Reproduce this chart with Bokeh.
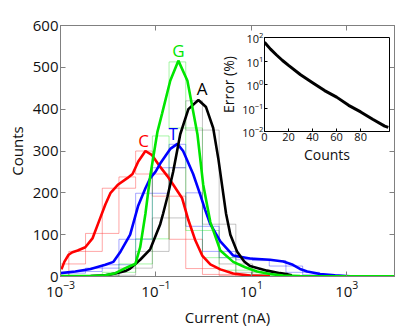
import numpy as np
from bokeh.plotting import figure
from bokeh.models import Range1d, FixedTicker, LinearAxis, LogAxis, CustomJSTickFormatter, ColumnDataSource
from bokeh.layouts import column
from bokeh.core.properties import value
from bokeh.embed import file_html
from bokeh.resources import INLINE

# ---------------- data ----------------
# histogram bin centres, log10(current / nA); bin width in decades
bin_width = 0.35
hist_C = [30, 60, 103, 211, 238, 300, 245, 192, 89, 19, 5, 2]
hist_T = [8, 12, 20, 28, 89, 199, 260, 316, 200, 120, 60, 45, 40, 38, 25, 10, 4]
hist_G = [0, 0, 1, 10, 30, 90, 336, 513, 355, 110, 45, 15, 5, 2]
hist_A = [0, 0, 1, 3, 20, 60, 140, 260, 420, 350, 125, 30, 10, 5]
first_bin_center = -3.0

# smoothed curves: log10(current) and counts
C_logx = [-2.98, -2.92, -2.83, -2.75, -2.64, -2.48, -2.33, -2.21, -2.06, -1.95, -1.79, -1.60, -1.49,
          -1.37, -1.22, -1.08, -0.91, -0.76, -0.64, -0.45, -0.32, -0.18, -0.03, 0.14, 0.35, 0.62, 0.97, 1.39]
C_cnt = [17, 35, 52, 58, 62, 70, 91, 127, 172, 200, 220, 235, 245,
         275, 300, 290, 262, 240, 220, 187, 135, 88, 50, 29, 17, 7, 2, 0.5]

T_logx = [-3.0, -2.69, -2.37, -2.06, -1.89, -1.74, -1.54, -1.37, -1.22, -1.12, -1.01, -0.91, -0.70,
          -0.55, -0.43, -0.22, -0.07, 0.03, 0.14, 0.35, 0.62, 0.97, 1.39, 1.67, 1.87, 2.02, 2.17, 2.44, 2.75, 3.07]
T_cnt = [8, 12, 18, 28, 35, 60, 100, 170, 211, 235, 250, 270, 305,
         317, 300, 245, 195, 160, 125, 84, 50, 43, 40, 36, 28, 18, 12, 6, 3, 0.5]

G_logx = [-3.0, -2.37, -2.06, -1.85, -1.64, -1.54, -1.43, -1.33, -1.22, -1.12, -0.97, -0.87, -0.70,
          -0.53, -0.34, -0.13, -0.01, 0.14, 0.35, 0.62, 0.87, 1.12, 1.39, 1.67, 2.02, 4.0]
G_cnt = [1, 1, 3, 8, 20, 25, 30, 70, 150, 240, 345, 390, 468,
         516, 468, 340, 220, 130, 62, 35, 22, 12, 6, 2, 1, 0.5]

A_logx = [-3.0, -2.37, -2.06, -1.85, -1.64, -1.54, -1.33, -1.12, -0.91, -0.85, -0.76, -0.64, -0.49,
          -0.32, -0.11, 0.05, 0.20, 0.31, 0.39, 0.47, 0.56, 0.70, 0.85, 0.97, 1.33, 1.60, 1.77, 1.85]
A_cnt = [0.5, 1, 3, 7, 13, 19, 40, 65, 125, 150, 190, 250, 340,
         400, 422, 405, 355, 280, 215, 150, 100, 60, 36, 25, 14, 8, 5, 3]

labels = ["C", "T", "G", "A"]
label_logx = [-1.26, -0.64, -0.53, -0.03]
label_cnt = [325, 343, 540, 449]

# inset: error (%) vs counts
err_counts = [0, 5, 10, 15, 20, 30, 40, 50, 60, 70, 80, 90, 100, 103]
err_pct = [63, 32, 18, 10.5, 6.5, 2.6, 1.2, 0.55, 0.29, 0.13, 0.068, 0.033, 0.017, 0.015]

colors = {"C": "#ff0000", "T": "#0000ff", "G": "#00e600", "A": "#000000"}
FONT = "Open Sans"
AX = "#808080"

# ---------------- main figure ----------------
p = figure(width=404, height=330, x_axis_type="log",
           x_range=Range1d(1e-3, 1e4), y_range=Range1d(0, 600),
           output_backend="svg", toolbar_location=None,
           min_border_left=60, min_border_right=10, min_border_top=25, min_border_bottom=54)
p.grid.visible = False
p.outline_line_color = AX
p.background_fill_color = "white"


def box_bottoms(h):
    out = []
    n = len(h)
    for k in range(n):
        left = h[k - 1] if k > 0 else 0
        right = h[k + 1] if k < n - 1 else 0
        lower = [v for v in (left, right) if v < h[k]]
        out.append(max(lower) if lower else h[k])
    return out


for name, h in (("C", hist_C), ("T", hist_T), ("G", hist_G), ("A", hist_A)):
    centers = first_bin_center + bin_width * np.arange(len(h))
    src = ColumnDataSource(dict(
        left=10 ** (centers - bin_width / 2), right=10 ** (centers + bin_width / 2),
        top=h, bottom=box_bottoms(h)))
    col = colors[name] if name != "A" else "#555555"
    p.quad(left="left", right="right", top="top", bottom="bottom", source=src,
           fill_alpha=0, line_color=col, line_alpha=0.35, line_width=1)

for name, lx, cnt in (("C", C_logx, C_cnt), ("T", T_logx, T_cnt),
                      ("A", A_logx, A_cnt), ("G", G_logx, G_cnt)):
    p.line(10 ** np.array(lx), cnt, line_color=colors[name], line_width=2.6)

p.text(x=10 ** np.array(label_logx), y=label_cnt, text=labels,
       text_color=[colors[l] for l in labels], text_font=value(FONT), text_font_size="17px",
       text_align="center", text_baseline="middle")

xt = FixedTicker(ticks=[1e-3, 1e-1, 1e1, 1e3], minor_ticks=[])
yt = FixedTicker(ticks=[0, 100, 200, 300, 400, 500, 600], minor_ticks=[])
p.xaxis.ticker = xt
p.yaxis.ticker = yt
for ax in (p.xaxis[0], p.yaxis[0]):
    ax.major_tick_in = 5
    ax.major_tick_out = 0
    ax.minor_tick_in = 0
    ax.minor_tick_out = 0
    ax.axis_line_color = AX
    ax.major_tick_line_color = AX
    ax.major_label_text_font = FONT
    ax.major_label_text_font_size = "15px"
    ax.major_label_text_color = "#111111"
    ax.axis_label_text_font = FONT
    ax.axis_label_text_font_size = "15px"
    ax.axis_label_text_font_style = "normal"
    ax.axis_label_text_color = "#111111"
p.xaxis.axis_label = "Current (nA)"
p.yaxis.axis_label = "Counts"
p.xaxis.major_label_standoff = 4
p.xaxis.axis_label_standoff = 7
p.yaxis.major_label_standoff = 2
p.yaxis.axis_label_standoff = 3

blank = CustomJSTickFormatter(code="return ''")
right_ax = LinearAxis(ticker=yt, formatter=blank, major_tick_in=5, major_tick_out=0,
                      minor_tick_in=0, minor_tick_out=0, axis_line_color=AX,
                      major_tick_line_color=AX, major_label_standoff=0,
                      major_label_text_font_size="1px")
p.add_layout(right_ax, "right")
top_ax = LogAxis(ticker=xt, formatter=blank, major_tick_in=5, major_tick_out=0,
                 minor_tick_in=0, minor_tick_out=0, axis_line_color=AX,
                 major_tick_line_color=AX, major_label_standoff=0,
                 major_label_text_font_size="1px")
p.add_layout(top_ax, "above")

# ---------------- inset ----------------
ins = figure(width=195, height=140, y_axis_type="log",
             x_range=Range1d(0, 104), y_range=Range1d(1e-2, 1e2),
             output_backend="svg", toolbar_location=None,
             min_border_left=40, min_border_right=2, min_border_top=10, min_border_bottom=36,
             styles={"position": "absolute", "left": "204px", "top": "27px"})
ins.grid.visible = False
ins.outline_line_color = "#000000"
ins.border_fill_alpha = 0
ins.background_fill_color = "white"
ins.line(err_counts, err_pct, line_color="black", line_width=3)
ins.xaxis.ticker = FixedTicker(ticks=[0, 20, 40, 60, 80], minor_ticks=[])
ins.yaxis.ticker = FixedTicker(ticks=[1e-2, 1e-1, 1, 10, 100], minor_ticks=[])
for ax in (ins.xaxis[0], ins.yaxis[0]):
    ax.major_tick_in = 3
    ax.major_tick_out = 0
    ax.minor_tick_in = 0
    ax.minor_tick_out = 0
    ax.axis_line_color = "black"
    ax.major_label_text_font = FONT
    ax.major_label_text_font_size = "11px"
    ax.major_label_text_color = "#111111"
    ax.axis_label_text_font = FONT
    ax.axis_label_text_font_size = "14px"
    ax.axis_label_text_font_style = "normal"
    ax.axis_label_text_color = "#111111"
    ax.major_label_standoff = 1
    ax.axis_label_standoff = 1
ins.xaxis.axis_label = "Counts"
ins.yaxis.axis_label = "Error (%)"

layout = column(p, ins)
open("out.html", "w").write(file_html(layout, INLINE))
